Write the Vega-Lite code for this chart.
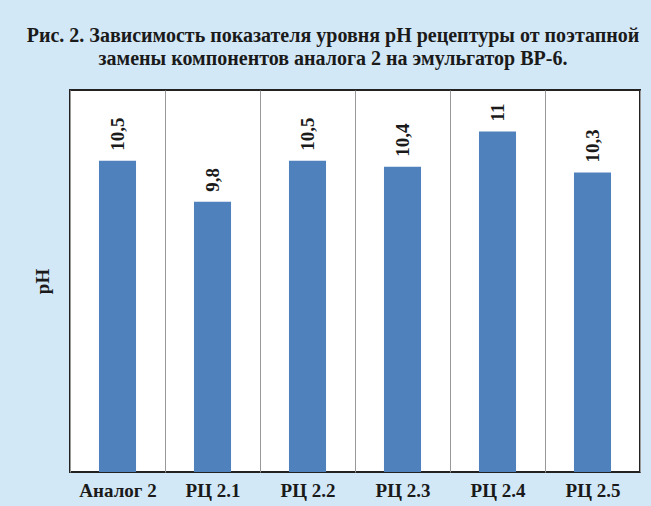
{
  "$schema": "https://vega.github.io/schema/vega-lite/v6.json",
  "width": 570,
  "height": 382,
  "autosize": "none",
  "padding": {"left": 70, "top": 90, "right": 11, "bottom": 34},
  "background": "#d3e8f7",
  "config": {
    "locale": {"number": {"decimal": ",", "thousands": " ", "grouping": [3], "currency": ["", ""]}},
    "font": "'Liberation Serif', 'Times New Roman', serif",
    "view": {"stroke": "#222222", "strokeWidth": 2, "fill": "#ffffff"}
  },
  "title": {
    "text": ["Рис. 2. Зависимость показателя уровня pH рецептуры от поэтапной", "замены компонентов аналога 2 на эмульгатор ВР-6."],
    "font": "'Liberation Serif', 'Times New Roman', serif",
    "fontSize": 20,
    "fontWeight": "bold",
    "lineHeight": 23,
    "color": "#1a1a1a",
    "anchor": "middle",
    "dx": -22,
    "offset": 21
  },
  "data": {
    "values": [
      {"cat": "Аналог 2", "ph": 10.5},
      {"cat": "РЦ 2.1", "ph": 9.8},
      {"cat": "РЦ 2.2", "ph": 10.5},
      {"cat": "РЦ 2.3", "ph": 10.4},
      {"cat": "РЦ 2.4", "ph": 11},
      {"cat": "РЦ 2.5", "ph": 10.3}
    ]
  },
  "encoding": {
    "x": {
      "field": "cat",
      "type": "nominal",
      "sort": null,
      "scale": {"paddingInner": 0, "paddingOuter": 0},
      "axis": {
        "title": null,
        "labelAngle": 0,
        "labelFont": "'Liberation Serif', 'Times New Roman', serif",
        "labelFontSize": 19,
        "labelFontWeight": "bold",
        "labelColor": "#1a1a1a",
        "labelPadding": 9,
        "ticks": false,
        "domain": false,
        "grid": true,
        "tickBand": "extent",
        "gridColor": "#999999",
        "gridWidth": 1
      }
    },
    "y": {
      "field": "ph",
      "type": "quantitative",
      "scale": {"domain": [5.18, 11.71], "zero": false, "nice": false},
      "axis": {
        "title": "pH",
        "titleFont": "'Liberation Serif', 'Times New Roman', serif",
        "titleFontSize": 19,
        "titleFontWeight": "bold",
        "titleColor": "#1a1a1a",
        "titlePadding": 18,
        "labels": false,
        "ticks": false,
        "domain": false,
        "grid": false
      }
    }
  },
  "layer": [
    {
      "mark": {"type": "bar", "color": "#4f81bd", "width": {"band": 0.39}},
      "encoding": {"y2": {"datum": 5.18}}
    },
    {
      "mark": {"type": "text", "angle": 270, "align": "left", "baseline": "middle", "dx": 10, "font": "'Liberation Serif', 'Times New Roman', serif", "fontSize": 19, "fontWeight": "bold", "color": "#1a1a1a"},
      "encoding": {"text": {"field": "ph", "type": "quantitative", "format": "~g"}}
    }
  ]
}
